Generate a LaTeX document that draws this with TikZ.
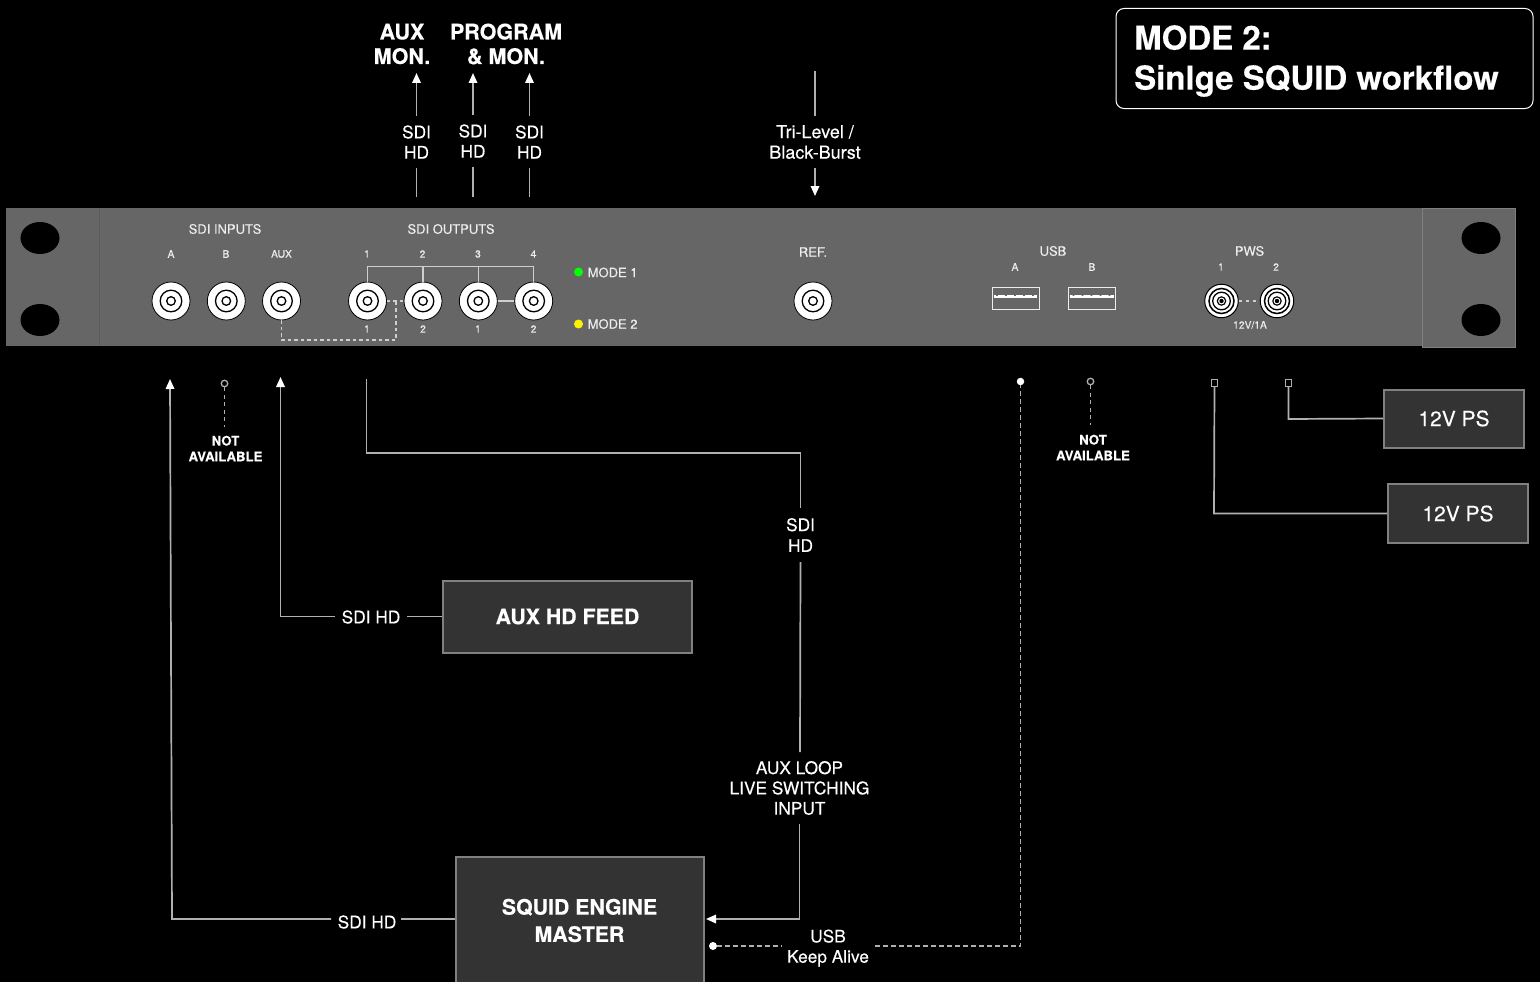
\documentclass[tikz,border=0pt]{standalone}
\usepackage{fontspec}
\setmainfont{TeX Gyre Heros}
\usetikzlibrary{arrows.meta,positioning,calc,shapes.geometric}
\definecolor{panel}{HTML}{666666}
\definecolor{boxfill}{HTML}{333333}
\definecolor{boxline}{HTML}{808080}
\definecolor{wire}{HTML}{B0B0B0}
\definecolor{panelwire}{HTML}{CFCFCF}
\definecolor{paneltxt}{HTML}{EDEDED}
\newcommand{\fs}[1]{\fontsize{#1}{#1}\selectfont}
\newcommand{\hvy}{\bfseries\addfontfeatures{FakeBold=0.4}}
\newcommand{\med}{\addfontfeatures{FakeBold=0.15}}
\tikzset{
  x=1pt,y=-1pt,
  wireline/.style={draw=wire,line width=1.7pt},
  dashwire/.style={draw=wire,line width=1.6pt,dash pattern=on 4pt off 4pt},
  arr/.style={wireline,-{Triangle[length=10pt,width=8.5pt,color=white,fill=white]}},
  lbl/.style={text=white,align=center,inner sep=0pt,font=\fs{17.3}\med},
  lblbold/.style={text=white,align=center,inner sep=0pt,font=\fs{21.5}\hvy},
  ptxt/.style={text=paneltxt,align=center,inner sep=0pt,font=\fs{13}\med},
  psmall/.style={text=paneltxt,align=center,inner sep=0pt,font=\fs{10.3}\med},
  na/.style={text=white,align=center,inner sep=0pt,font=\fs{13.2}\hvy},
  devbox/.style={draw=boxline,fill=boxfill,line width=2pt,text=white,align=center,inner sep=0pt},
  hole/.style={ellipse,fill=black,inner sep=0pt,minimum width=39pt,minimum height=32pt},
  bnc/.style={circle,draw=black,fill=white,line width=.8pt,minimum size=38pt,inner sep=0pt},
  opendot/.style={circle,draw=wire,fill=black,line width=1.3pt,minimum size=6.5pt,inner sep=0pt},
  fulldot/.style={circle,fill=white,minimum size=8pt,inner sep=0pt},
  sqend/.style={rectangle,draw=wire,fill=black,line width=1.4pt,minimum size=6.5pt,inner sep=0pt},
}
\newcommand{\bncat}[3]{%
  \node[bnc] (#1) at (#2,#3) {};
  \draw[black,line width=1.3pt] (#2,#3) circle (10.8pt);
  \draw[black,line width=1.3pt] (#2,#3) circle (4.3pt);
}
\newcommand{\pwsat}[3]{%
  \node[bnc,minimum size=33.5pt,line width=1pt] (#1) at (#2,#3) {};
  \draw[black,line width=1.5pt] (#2,#3) circle (12.5pt);
  \draw[black,line width=1.3pt] (#2,#3) circle (8.8pt);
  \fill[black] (#2,#3) circle (4.8pt);
  \fill[white] (#2,#3) circle (3.4pt);
  \fill[black] (#2,#3) circle (2.2pt);
}
\begin{document}
\begin{tikzpicture}
\useasboundingbox[fill=black] (0,0) rectangle (1540,982);

% rack panel
\node[draw=none,fill=panel,minimum width=1509pt,minimum height=138pt,inner sep=0pt,anchor=north west] (rack) at (6,208) {};
\draw[draw=black!10!panel,line width=.6pt] (99,208) -- (99,346);
\node[draw=boxline,fill=panel,line width=.8pt,minimum width=93pt,minimum height=139pt,inner sep=0pt,anchor=north west] (ear) at (1422,208) {};
\node[hole] (h1) at (40,238) {};
\node[hole] (h2) at (40,320) {};
\node[hole] (h3) at (1481,238) {};
\node[hole] (h4) at (1481,320) {};

% panel labels
\node[ptxt] (tinputs) at (225,229) {SDI INPUTS};
\node[ptxt] (toutputs) at (451,229) {SDI OUTPUTS};
\node[psmall] (ta) at (171,254) {A};
\node[psmall] (tb) at (226,254) {B};
\node[psmall] (taux) at (281.5,254) {AUX};
\node[psmall] (to1) at (367,254) {1};
\node[psmall] (to2) at (422.5,254) {2};
\node[psmall] (to3) at (478,254) {3};
\node[psmall] (to4) at (533.5,254) {4};
\node[psmall] (bo1) at (367,329) {1};
\node[psmall] (bo2) at (423,329) {2};
\node[psmall] (bo3) at (478,329) {1};
\node[psmall] (bo4) at (533.5,329) {2};
\node[ptxt,anchor=west] (tm1) at (587.5,272.5) {MODE 1};
\node[ptxt,anchor=west] (tm2) at (587.5,324) {MODE 2};
\node[circle,fill=green,minimum size=9pt,inner sep=0pt] (led1) at (578.5,272) {};
\node[circle,fill=yellow,minimum size=9pt,inner sep=0pt] (led2) at (578.5,324) {};
\node[ptxt] (tref) at (813,252) {REF.};
\node[ptxt] (tusb) at (1053,251) {USB};
\node[psmall] (tua) at (1015,267) {A};
\node[psmall] (tub) at (1092,267) {B};
\node[ptxt] (tpws) at (1249.5,251) {PWS};
\node[psmall] (tp1) at (1221,267) {1};
\node[psmall] (tp2) at (1276,267) {2};
\node[psmall] (tpa) at (1250,325) {12V/1A};

% connectors on the panel
\bncat{ia}{171}{301}
\bncat{ib}{226.3}{301}
\bncat{iaux}{281.5}{301}
\bncat{o1}{367.5}{301}
\bncat{o2}{423}{301}
\bncat{o3}{478.3}{301}
\bncat{o4}{533.7}{301}
\bncat{ref}{813}{301}
\pwsat{p1}{1221.5}{301}
\pwsat{p2}{1277}{301}

% USB ports
\node[draw=paneltxt,fill=none,line width=.9pt,minimum width=47pt,minimum height=22pt,inner sep=0pt] (usba) at (1015.5,298.5) {};
\node[draw=paneltxt,fill=none,line width=.9pt,minimum width=47pt,minimum height=22pt,inner sep=0pt] (usbb) at (1092,298.5) {};
\fill[white] (993.5,294.5) rectangle (1037,297.5);
\fill[white] (1070,294.5) rectangle (1113.5,297.5);
\fill[panel] \foreach \x in {997,1006,1015,1024,1033,1073.5,1082.5,1091.5,1100.5,1109.5} {(\x-.8,294.4) rectangle (\x+.8,295.8)};

% panel wiring
\draw[draw=panelwire,line width=1.5pt] (o1.north) -- (367.5,266.5) -- (533.7,266.5) -- (o4.north);
\draw[draw=panelwire,line width=1.5pt] (o2.north) -- (423,266.5);
\draw[draw=panelwire,line width=1.5pt] (o3.north) -- (478.3,266.5);
\draw[draw=panelwire,line width=1.5pt] (o3) -- (o4);
\draw[dashwire,draw=panelwire,line width=1.4pt,dash pattern=on 3.5pt off 3pt] (iaux.south) -- (281.5,340) -- (396,340) -- (396,301);
\draw[dashwire,draw=panelwire,line width=1.4pt,dash pattern=on 3.5pt off 3pt] (o1) -- (o2);
\draw[dashwire,draw=panelwire,line width=1.4pt,dash pattern=on 3.5pt off 3.5pt] (p1) -- (p2);

% upper signal labels
\node[lblbold] (aux) at (402,44) {AUX\\[3pt]MON.};
\node[lblbold] (prog) at (506,44) {PROGRAM\\[3pt]\& MON.};
\node[lbl] (s1) at (416.5,142) {SDI\\[3pt]HD};
\node[lbl] (s2) at (473,141) {SDI\\[3pt]HD};
\node[lbl] (s3) at (529.5,142) {SDI\\[3pt]HD};
\node[lbl,font=\fs{18}\med] (tri) at (815,142) {Tri-Level /\\[2.5pt]Black-Burst};
\coordinate (s1t) at (416.5,73); \coordinate (s1b) at (416.5,197);
\coordinate (s2t) at (473,73); \coordinate (s2b) at (473,197);
\coordinate (s3t) at (529.5,73); \coordinate (s3b) at (529.5,197);
\coordinate (trit) at (815,71); \coordinate (trib) at (815,196);
\draw[arr] (416.5,116) -- (s1t);
\draw[arr] (473,115) -- (s2t);
\draw[arr] (529.5,116) -- (s3t);
\draw[wireline] (s1b) -- (416.5,168);
\draw[wireline] (s2b) -- (473,167);
\draw[wireline] (s3b) -- (529.5,168);
\draw[wireline] (trit) -- (815,116);
\draw[arr] (815,168) -- (trib);

% title
\node[draw=white,line width=1pt,rounded corners=8pt,minimum width=417pt,minimum height=100pt,inner sep=0pt,anchor=north west] (title) at (1115.5,8) {};
\node[text=white,anchor=west,align=left,inner sep=0pt,font=\fs{33}\hvy] (titletxt) at (1134,61) {MODE 2:\\[7pt]Sinlge SQUID workflow};

% lower: inputs
\coordinate (aend) at (170,379);
\coordinate (auxend) at (280.5,377);
\node[opendot] (bend) at (224.5,383.5) {};
\node[na] (na1) at (225.5,448.5) {NOT\\[2.5pt]AVAILABLE};
\draw[dashwire,dash pattern=on 4pt off 3.5pt] (bend) -- (224.5,427);

\node[devbox,minimum width=249pt,minimum height=72pt,font=\fs{21.3}\hvy] (auxfeed) at (567.5,616.5) {AUX HD FEED};
\node[devbox,minimum width=248pt,minimum height=130pt,anchor=north west] (squid) at (454.5,856) {};
\node[text=white,align=center,inner sep=0pt,font=\fs{21.3}\hvy] (squidtxt) at (579.5,920.5) {SQUID ENGINE\\[6pt]MASTER};
\node[lbl] (lauxsdi) at (371,617) {SDI HD};
\node[lbl] (lsdi) at (367,922) {SDI HD};
\draw[arr] (335,616.5) -- (280.5,616.5) -- (auxend);
\draw[wireline] (407,616.5) -- (auxfeed.west);
\draw[arr] (331,919) -- (172,919) -- (aend);
\draw[wireline] (401,919) -- (squid.west |- 0,919);

% SDI loop
\node[lbl] (lloop1) at (800.5,535) {SDI\\[3.5pt]HD};
\node[lbl] (lloop2) at (799.5,788) {AUX LOOP\\[3pt]LIVE SWITCHING\\[3pt]INPUT};
\coordinate (o1down) at (366.5,379);
\draw[wireline] (o1down) -- (366.5,453) -- (800.5,453) -- (800.5,508);
\draw[wireline] (800.5,562) -- (800,752);
\draw[arr] (799.5,824) -- (799.5,919) -- (706,919);

% USB keep alive
\node[lbl] (lusb) at (828,948) {USB\\[3pt]Keep Alive};
\node[fulldot] (usbend) at (713,946) {};
\node[fulldot,minimum size=7.5pt] (usbtop) at (1020.5,381.5) {};
\draw[dashwire,dash pattern=on 4.5pt off 3.5pt] (usbend) -- (782,946);
\draw[dashwire,dash pattern=on 4.5pt off 3.5pt] (875,946) -- (1020.5,946) -- (usbtop);

% USB B not available
\node[opendot] (bbend) at (1090.5,381.5) {};
\node[na] (na2) at (1093,447.5) {NOT\\[2.5pt]AVAILABLE};
\draw[dashwire,dash pattern=on 4pt off 3.5pt] (bbend) -- (1090.5,425);

% power supplies
\node[devbox,minimum width=140pt,minimum height=58pt,font=\fs{21}\med] (ps2) at (1454,418.5) {12V PS};
\node[devbox,minimum width=140pt,minimum height=59pt,font=\fs{21}\med] (ps1) at (1458,513.5) {12V PS};
\node[sqend] (p1end) at (1214.5,383) {};
\node[sqend] (p2end) at (1288.5,383) {};
\draw[wireline] (p2end) -- (1288.5,419) -- (ps2.west);
\draw[wireline] (p1end) -- (1214,513.5) -- (ps1.west);
\end{tikzpicture}
\end{document}
